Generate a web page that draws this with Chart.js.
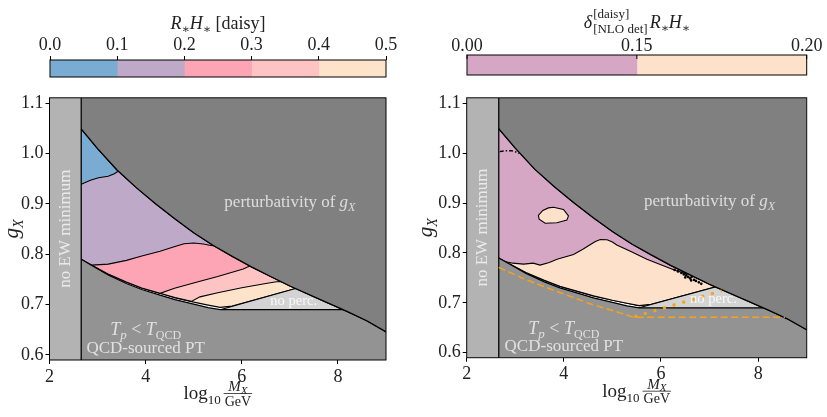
<!DOCTYPE html>
<html>
<head>
<meta charset="utf-8">
<script src="https://cdn.jsdelivr.net/npm/chart.js@4.4.0/dist/chart.umd.min.js"></script>
<style>
  html, body { margin: 0; padding: 0; background: #fff; }
  body { width: 827px; height: 417px; position: relative; overflow: hidden; }
  .box { position: absolute; }
</style>
</head>
<body>
<div class="box" style="left:0;top:0;width:400px;height:85px"><canvas id="cbLeft"></canvas></div>
<div class="box" style="left:410px;top:0;width:417px;height:85px"><canvas id="cbRight"></canvas></div>
<div class="box" style="left:0;top:85px;width:400px;height:330px"><canvas id="mainLeft"></canvas></div>
<div class="box" style="left:410px;top:85px;width:417px;height:330px"><canvas id="mainRight"></canvas></div>
<script>
// ---- axes ----
const xRange = [2, 9];
const yRange = [0.59, 1.111];
const xTicks = [2, 4, 6, 8];
const yTicks = [0.6, 0.7, 0.8, 0.9, 1.0, 1.1];
const ewEdgeX = 2.66;

// ---- colour bars ----
const cbLeftLevels = ['0.0', '0.1', '0.2', '0.3', '0.4', '0.5'];
const cbLeftColors = ['#7aacd3', '#bea9c8', '#fda4b5', '#fec4c4', '#fee3cb'];
const cbRightLevels = ['0.00', '0.15', '0.20'];
const cbRightColors = ['#d6a7c4', '#fee1cb'];

// ---- boundaries (log10 M_X/GeV , g_X) ----
// perturbativity of g_X
const pertX = [2.66, 3.0, 3.4, 3.8, 4.2, 4.6, 5.0, 5.4, 5.8, 6.2, 6.6, 7.0, 7.4, 7.8, 8.2, 8.6, 9.0];
const pertG = [1.049, 1.010, 0.968, 0.933, 0.901, 0.871, 0.843, 0.818, 0.796, 0.775, 0.756, 0.737, 0.720, 0.703, 0.686, 0.668, 0.646];
// T_p = T_QCD edge, then the flat no-percolation floor
const qcdX = [2.66, 2.88, 3.22, 3.6, 3.92, 4.3, 4.61, 5.0, 5.3, 5.55, 8.11];
const qcdG = [0.790, 0.778, 0.759, 0.742, 0.730, 0.719, 0.710, 0.701, 0.694, 0.690, 0.690];
// lower edge of the coloured band
const bandX = [2.66, 2.88, 3.22, 3.6, 3.92, 4.3, 4.61, 5.0, 5.3, 5.55, 5.8];
const bandG = [0.790, 0.7785, 0.761, 0.745, 0.733, 0.7225, 0.714, 0.705, 0.699, 0.6945, 0.697];
// no percolation wedge (null = on the perturbativity line)
const noPercX = [5.55, 7.12];
const noPercG = [0.690, null];

// ---- left panel contours of R*H* ----
const c01X = [2.66, 2.85, 3.02, 3.22, 3.35, 3.43];
const c01G = [0.939, 0.947, 0.952, 0.955, 0.960, null];
const c02X = [2.88, 3.22, 3.6, 3.92, 4.3, 4.61, 4.8, 5.0, 5.2, 5.33, 5.42];
const c02G = [0.7785, 0.7805, 0.788, 0.7965, 0.806, 0.8155, 0.821, 0.8225, 0.8205, 0.818, null];
const c03X = [4.3, 4.6, 5.13, 5.5, 5.8, 6.03, 6.12, 6.17];
const c03G = [0.7225, 0.7325, 0.7465, 0.756, 0.7645, 0.771, 0.775, null];
const c04X = [4.95, 5.13, 5.5, 6.0, 6.5, 6.72, 6.82];
const c04G = [0.7065, 0.7155, 0.7235, 0.7335, 0.742, 0.7455, null];

// ---- right panel: delta R*H* ----
const c15X = [2.80, 2.95, 3.17, 3.37, 3.51, 3.70, 3.86, 4.20, 4.40, 4.54, 4.65, 4.75, 4.89, 5.00, 5.09, 5.37, 5.71, 6.05, 6.30, 6.60];
const c15G = [0.7825, 0.7795, 0.7775, 0.7795, 0.7757, 0.781, 0.7873, 0.797, 0.808, 0.8163, 0.823, 0.827, 0.8265, 0.822, 0.816, 0.8034, 0.7873, 0.7745, 0.765, null];
const islandX = [3.786, 3.992, 4.095, 4.062, 3.856, 3.615, 3.491, 3.476, 3.567, 3.682, 3.786];
const islandG = [0.8915, 0.8871, 0.8742, 0.8658, 0.8606, 0.8594, 0.8677, 0.8754, 0.8851, 0.8903, 0.8915];
const dashX = [2.68, 2.80, 2.92, 3.02, 3.07];
const dashG = [1.003, 1.005, 1.005, 1.002, 0.999];
const speckX = [6.28, 6.35, 6.42, 6.47, 6.52, 6.56, 6.60, 6.63, 6.68, 6.72, 6.78, 6.83, 6.50, 6.62];
const speckG = [0.766, 0.763, 0.760, 0.757, 0.755, 0.752, 0.749, 0.752, 0.746, 0.744, 0.741, 0.738, 0.751, 0.745];
const orangeDashX = [2.66, 3.17, 3.86, 4.54, 5.23, 5.44, 8.55];
const orangeDashG = [0.771, 0.7485, 0.7227, 0.6983, 0.6776, 0.671, 0.671];
const orangeDotX = [5.45, 6.0, 7.25];
const orangeDotG = [0.672, 0.688, 0.724];

// ---------------------------------------------------------------
const SERIF = '"Liberation Serif", "DejaVu Serif", serif';
const font = (size, italic) => (italic ? 'italic ' : '') + size + 'px ' + SERIF;
const TXT = '#222';
const ANN = 'rgba(255,255,255,0.72)';

function pertAt(x) {
  for (let i = 1; i < pertX.length; i++) {
    if (x <= pertX[i]) {
      const t = (x - pertX[i - 1]) / (pertX[i] - pertX[i - 1]);
      return pertG[i - 1] + t * (pertG[i] - pertG[i - 1]);
    }
  }
  return pertG[pertG.length - 1];
}
function pts(xs, gs) {
  return xs.map((x, i) => ({ x: x, y: gs[i] == null ? pertAt(x) : gs[i] }));
}
function pertBetween(a, b) {
  const lo = Math.min(a, b), hi = Math.max(a, b);
  const inner = pts(pertX, pertG).filter(p => p.x > lo && p.x < hi);
  if (a > b) inner.reverse();
  return [{ x: a, y: pertAt(a) }].concat(inner, [{ x: b, y: pertAt(b) }]);
}
function bandBefore(x0) {
  return pts(bandX, bandG).filter(p => p.x < x0);
}
function area(data, color, extra) {
  return Object.assign({ data: data, backgroundColor: color, borderColor: '#000', borderWidth: 1.1, fill: 'shape' }, extra || {});
}
function line(data, color, width, dash) {
  return { data: data, borderColor: color, borderWidth: width, borderDash: dash || [], fill: false };
}

function commonLayers() {
  const envelope = pts(bandX, bandG).concat(pertBetween(noPercX[1], ewEdgeX));
  const noPerc = pts(noPercX, noPercG).concat(pertBetween(noPercX[1], qcdX[qcdX.length - 1]));
  const lower = pts(qcdX, qcdG).concat(pertBetween(qcdX[qcdX.length - 1], xRange[1]));
  return {
    strip: area([{ x: xRange[0], y: yRange[1] }, { x: ewEdgeX, y: yRange[1] }], '#b3b3b3', { fill: 'start', borderWidth: 0 }),
    envelope: envelope,
    noPerc: area(noPerc, '#d3d3d3'),
    lower: area(lower, '#939393', { fill: 'start', borderWidth: 1.2 }),
    upper: area(pts(pertX, pertG), '#808080', { fill: 'end', borderWidth: 1.3 }),
    wall: line([{ x: ewEdgeX, y: yRange[0] }, { x: ewEdgeX, y: yRange[1] }], '#000', 1.3)
  };
}

function withOrder(list) {
  list.forEach((d, i) => { d.order = -i; d.pointRadius = d.pointRadius || 0; d.tension = 0; });
  return list;
}

function leftDatasets() {
  const L = commonLayers();
  const last = a => a[a.length - 1];
  const lt04 = bandBefore(c04X[0]).concat(pts(c04X, c04G), pertBetween(last(c04X), ewEdgeX));
  const lt03 = bandBefore(c03X[0]).concat(pts(c03X, c03G), pertBetween(last(c03X), ewEdgeX));
  const lt02 = bandBefore(c02X[0]).concat(pts(c02X, c02G), pertBetween(last(c02X), ewEdgeX));
  const lt01 = pts(c01X, c01G).concat(pertBetween(last(c01X), ewEdgeX));
  return withOrder([
    L.strip,
    area(L.envelope, cbLeftColors[4]),
    area(lt04, cbLeftColors[3]),
    area(lt03, cbLeftColors[2]),
    area(lt02, cbLeftColors[1]),
    area(lt01, cbLeftColors[0]),
    L.noPerc, L.lower, L.upper, L.wall
  ]);
}

function rightDatasets() {
  const L = commonLayers();
  const peach = pts(c15X, c15G).concat(
    pertBetween(c15X[c15X.length - 1], noPercX[1]),
    pts(bandX, bandG).filter(p => p.x > c15X[0]).reverse());
  const dotted = line(pts(orangeDotX, orangeDotG), '#f5a31a', 3, [3, 7]);
  return withOrder([
    L.strip,
    area(L.envelope, cbRightColors[0]),
    area(peach, cbRightColors[1]),
    area(pts(islandX, islandG), cbRightColors[1]),
    line(pts(dashX, dashG), '#000', 1.4, [4, 2, 1.5, 2]),
    { data: pts(speckX, speckG), showLine: false, pointRadius: 1.3, pointBackgroundColor: '#000', pointBorderWidth: 0 },
    L.noPerc, L.lower, L.upper, L.wall,
    line(pts(orangeDashX, orangeDashG), '#f5a31a', 1.5, [7, 3.5]),
    dotted
  ]);
}

function drawRuns(ctx, parts, x, y, align) {
  let w = 0;
  parts.forEach(p => { ctx.font = p[1]; w += ctx.measureText(p[0]).width; });
  let cx = align === 'left' ? x : x - w / 2;
  parts.forEach(p => {
    ctx.font = p[1];
    ctx.fillText(p[0], cx, y + (p[2] || 0));
    cx += ctx.measureText(p[0]).width;
  });
  return w;
}

function decorPlugin(opts) {
  return {
    id: 'decor',
    afterDraw(chart) {
      const ctx = chart.ctx, ca = chart.chartArea;
      const sx = chart.scales.x, sy = chart.scales.y;
      ctx.save();
      ctx.strokeStyle = '#000';
      ctx.lineWidth = 1;
      ctx.strokeRect(ca.left, ca.top, ca.right - ca.left, ca.bottom - ca.top);
      ctx.textAlign = 'left';
      ctx.textBaseline = 'alphabetic';

      // annotations inside the plot
      ctx.fillStyle = ANN;
      drawRuns(ctx, [['perturbativity of ', font(17)], ['g', font(17, true)], ['X', font(12, true), 4]],
        sx.getPixelForValue(7.0), sy.getPixelForValue(0.894));
      ctx.fillStyle = 'rgba(255,255,255,0.85)';
      drawRuns(ctx, [['no perc.', font(14.5)]], sx.getPixelForValue(7.08), sy.getPixelForValue(0.700));
      ctx.fillStyle = ANN;
      drawRuns(ctx, [['T', font(18, true)], ['p', font(13, true), 4], [' < ', font(18)], ['T', font(18, true)], ['QCD', font(12), 4]],
        sx.getPixelForValue(4.0), sy.getPixelForValue(opts.tqY));
      drawRuns(ctx, [['QCD-sourced PT', font(17)]], sx.getPixelForValue(4.0), sy.getPixelForValue(opts.pdY));
      ctx.save();
      ctx.translate(sx.getPixelForValue(2.325), sy.getPixelForValue(0.851));
      ctx.rotate(-Math.PI / 2);
      ctx.textAlign = 'center';
      ctx.textBaseline = 'middle';
      ctx.font = font(17);
      ctx.fillText('no EW minimum', 0, 0);
      ctx.restore();

      // x axis title: log10 M_X / GeV
      ctx.fillStyle = TXT;
      const base = ca.bottom + 39;
      ctx.font = font(19); const w1 = ctx.measureText('log').width;
      ctx.font = font(13); const w2 = ctx.measureText('10').width;
      ctx.font = font(15, true); const wM = ctx.measureText('M').width;
      ctx.font = font(11, true); const wX = ctx.measureText('X').width;
      ctx.font = font(14); const wG = ctx.measureText('GeV').width;
      const fw = Math.max(wM + wX, wG) + 2;
      const total = w1 + w2 + 3 + fw;
      const x0 = (ca.left + ca.right) / 2 - total / 2;
      ctx.font = font(19); ctx.fillText('log', x0, base);
      ctx.font = font(13); ctx.fillText('10', x0 + w1, base + 5);
      const fx = x0 + w1 + w2 + 3;
      ctx.beginPath();
      ctx.moveTo(fx, base - 5.5); ctx.lineTo(fx + fw, base - 5.5);
      ctx.lineWidth = 0.8; ctx.strokeStyle = TXT; ctx.stroke();
      const nx = fx + (fw - wM - wX) / 2;
      ctx.font = font(15, true); ctx.fillText('M', nx, base - 8);
      ctx.font = font(11, true); ctx.fillText('X', nx + wM, base - 5.5);
      ctx.font = font(14); ctx.fillText('GeV', fx + (fw - wG) / 2, base + 6.5);

      // y axis title: g_X
      ctx.save();
      ctx.translate(ca.left + opts.yLabelDx, (ca.top + ca.bottom) / 2);
      ctx.rotate(-Math.PI / 2);
      drawRuns(ctx, [['g', font(21, true)], ['X', font(14, true), 5]], 0, 4);
      ctx.restore();
      ctx.restore();
    }
  };
}

function mainChart(id, datasets, opts) {
  const tickFont = { family: SERIF, size: 18 };
  return new Chart(document.getElementById(id), {
    type: 'line',
    data: { datasets: datasets },
    options: {
      animation: false,
      responsive: true,
      maintainAspectRatio: false,
      events: [],
      layout: { padding: { top: opts.top, right: opts.right, left: 0, bottom: 0 } },
      plugins: { legend: { display: false }, tooltip: { enabled: false } },
      elements: { point: { radius: 0, hitRadius: 0, hoverRadius: 0 } },
      scales: {
        x: {
          type: 'linear', min: xRange[0], max: xRange[1],
          afterBuildTicks: s => { s.ticks = xTicks.map(v => ({ value: v })); },
          afterFit: s => { s.height = opts.xHeight; },
          ticks: { font: tickFont, color: TXT, padding: 2, maxRotation: 0, autoSkip: false, callback: v => String(v) },
          grid: { drawOnChartArea: false, tickLength: 4, color: '#000' },
          border: { display: false }
        },
        y: {
          type: 'linear', min: yRange[0], max: yRange[1],
          afterBuildTicks: s => { s.ticks = yTicks.map(v => ({ value: v })); },
          afterFit: s => { s.width = opts.yWidth; },
          ticks: { font: tickFont, color: TXT, padding: 2, autoSkip: false, callback: v => v.toFixed(1) },
          grid: { drawOnChartArea: false, tickLength: 4, color: '#000' },
          border: { display: false }
        }
      }
    },
    plugins: [decorPlugin(opts)]
  });
}

function colourBar(id, levels, colors, opts) {
  return new Chart(document.getElementById(id), {
    type: 'bar',
    data: {
      labels: ['cb'],
      datasets: colors.map((c, i) => ({
        data: [[i, i + 1]], backgroundColor: c, borderWidth: 0,
        barPercentage: 1, categoryPercentage: 1, grouped: false
      }))
    },
    options: {
      indexAxis: 'y',
      animation: false,
      responsive: true,
      maintainAspectRatio: false,
      events: [],
      layout: { padding: { left: opts.left, right: opts.right, top: 0, bottom: opts.bottom } },
      plugins: { legend: { display: false }, tooltip: { enabled: false } },
      scales: {
        x: {
          type: 'linear', position: 'top', min: 0, max: colors.length,
          afterBuildTicks: s => { s.ticks = levels.map((v, i) => ({ value: i })); },
          afterFit: s => { s.height = opts.top; },
          ticks: { font: { family: SERIF, size: 18 }, color: TXT, padding: opts.pad, maxRotation: 0, autoSkip: false,
            callback: (v, i) => levels[i] },
          grid: { drawOnChartArea: false, drawTicks: !opts.inward, tickLength: 4, color: '#000' },
          border: { display: false }
        },
        y: { display: false }
      }
    },
    plugins: [{
      id: 'cbdecor',
      afterDraw(chart) {
        const ctx = chart.ctx, ca = chart.chartArea;
        ctx.save();
        ctx.strokeStyle = '#000';
        ctx.lineWidth = 1;
        ctx.strokeRect(ca.left, ca.top, ca.right - ca.left, ca.bottom - ca.top);
        if (opts.inward) {
          chart.scales.x.ticks.forEach(t => {
            const px = chart.scales.x.getPixelForValue(t.value);
            ctx.beginPath(); ctx.moveTo(px, ca.top); ctx.lineTo(px, ca.top + 4); ctx.stroke();
          });
        }
        ctx.fillStyle = TXT;
        ctx.textAlign = 'left';
        ctx.textBaseline = 'alphabetic';
        opts.title(ctx, (ca.left + ca.right) / 2);
        ctx.restore();
      }
    }]
  });
}

const rhRuns = [['R', font(18, true)], ['\u2217', font(12), 4], ['H', font(18, true)], ['\u2217', font(12), 4]];

colourBar('cbLeft', cbLeftLevels, cbLeftColors, {
  left: 50, right: 14, top: 60, bottom: 8, pad: 0, inward: false,
  title: (ctx, cx) => drawRuns(ctx, rhRuns.concat([[' [daisy]', font(18)]]), cx, 29)
});

colourBar('cbRight', cbRightLevels, cbRightColors, {
  left: 57, right: 20.3, top: 55, bottom: 10, pad: -2, inward: true,
  title: (ctx, cx) => {
    ctx.font = font(18, true); const wd = ctx.measureText('\u03b4').width;
    ctx.font = font(13); const ws = Math.max(ctx.measureText('[daisy]').width, ctx.measureText('[NLO det]').width);
    let wr = 0;
    rhRuns.forEach(p => { ctx.font = p[1]; wr += ctx.measureText(p[0]).width; });
    const total = wd + 1 + ws + 2 + wr;
    const x0 = cx - total / 2;
    ctx.font = font(18, true); ctx.fillText('\u03b4', x0, 28);
    ctx.font = font(13);
    ctx.fillText('[daisy]', x0 + wd + 1, 18);
    ctx.fillText('[NLO det]', x0 + wd + 1, 33);
    drawRuns(ctx, rhRuns, x0 + wd + 1 + ws + 2, 28, 'left');
  }
});

mainChart('mainLeft', leftDatasets(), { top: 6, right: 14, yWidth: 49.5, xHeight: 55, yLabelDx: -35.5, tqY: 0.6405, pdY: 0.6035 });
mainChart('mainRight', rightDatasets(), { top: 4.3, right: 20.3, yWidth: 56.7, xHeight: 57.3, yLabelDx: -38.4, tqY: 0.6374, pdY: 0.6025 });
</script>
</body>
</html>
